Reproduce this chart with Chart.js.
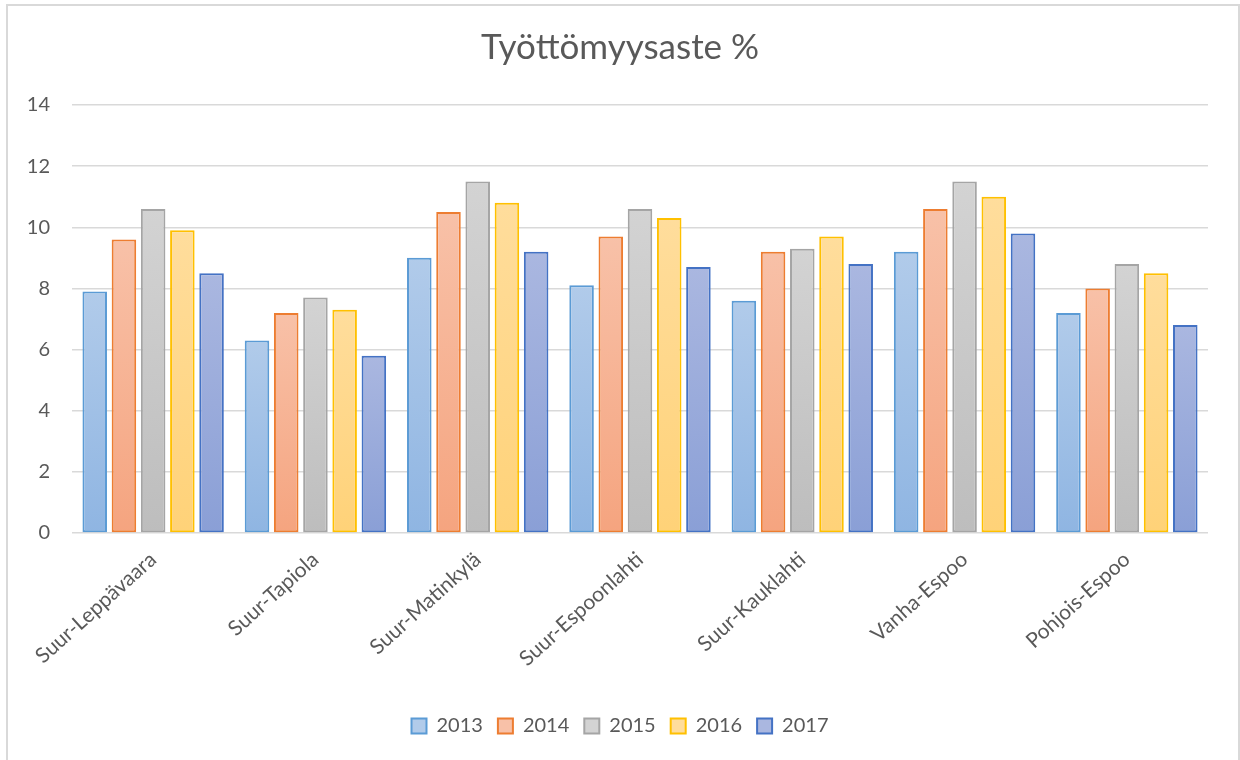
<!DOCTYPE html>
<html>
<head>
<meta charset="utf-8">
<script src="https://cdn.jsdelivr.net/npm/chart.js@4"></script>
<style>
  html, body { margin: 0; padding: 0; background: #fff; }
  #wrap { position: relative; width: 1240px; height: 760px; overflow: hidden; }
  #frame { position: absolute; left: 6px; top: 4px; width: 1230px; height: 800px;
           border: 2px solid #d9d9d9; pointer-events: none; }
</style>
</head>
<body>
<div id="wrap">
  <canvas id="chart" width="1240" height="760"></canvas>
  <div id="frame"></div>
</div>
<script>
// Työttömyysaste % by area, 2013-2017
const areas = ['Suur-Leppävaara', 'Suur-Tapiola', 'Suur-Matinkylä', 'Suur-Espoonlahti',
               'Suur-Kauklahti', 'Vanha-Espoo', 'Pohjois-Espoo'];
const years = ['2013', '2014', '2015', '2016', '2017'];

const v2013 = [7.9, 6.3, 9.0, 8.1, 7.6, 9.2, 7.2];
const v2014 = [9.6, 7.2, 10.5, 9.7, 9.2, 10.6, 8.0];
const v2015 = [10.6, 7.7, 11.5, 10.6, 9.3, 11.5, 8.8];
const v2016 = [9.9, 7.3, 10.8, 10.3, 9.7, 11.0, 8.5];
const v2017 = [8.5, 5.8, 9.2, 8.7, 8.8, 9.8, 6.8];

const yTicks = [0, 2, 4, 6, 8, 10, 12, 14];

// top colour, bottom colour, border
const palette = [
  ['#b1cbea', '#8fb5e2', '#5b9bd5'],
  ['#f8c1a8', '#f5a47f', '#ed7d31'],
  ['#d3d3d3', '#bdbdbd', '#a5a5a5'],
  ['#ffdd9c', '#ffd278', '#ffc000'],
  ['#aab7e0', '#8a9fd6', '#4472c4']
];

const grey = '#595959';
const font = 'Lato, "Open Sans", sans-serif';

function barFill(i) {
  return (ctx) => {
    const [top, bottom] = palette[i];
    const chart = ctx.chart;
    if (ctx.type !== 'data' || !chart.chartArea || !ctx.parsed) return bottom;
    const y = chart.scales.y;
    const y0 = y.getPixelForValue(ctx.parsed.y);
    const y1 = y.getPixelForValue(0);
    if (!isFinite(y0) || !isFinite(y1) || y0 === y1) return bottom;
    const g = chart.ctx.createLinearGradient(0, y0, 0, y1);
    g.addColorStop(0, top);
    g.addColorStop(1, bottom);
    return g;
  };
}

const series = [v2013, v2014, v2015, v2016, v2017];
const datasets = series.map((data, i) => ({
  label: years[i],
  data: data,
  backgroundColor: barFill(i),
  borderColor: palette[i][2],
  borderWidth: 2,
  borderSkipped: false,
  barPercentage: 0.84,
  categoryPercentage: 0.9
}));

new Chart(document.getElementById('chart').getContext('2d'), {
  type: 'bar',
  data: { labels: areas, datasets: datasets },
  options: {
    responsive: false,
    animation: false,
    layout: { padding: { left: 20, right: 20, top: 8, bottom: 14 } },
    plugins: {
      title: {
        display: true,
        text: 'Työttömyysaste %',
        color: grey,
        font: { family: font, size: 35, weight: 'normal' },
        padding: { top: 19, bottom: 36 }
      },
      legend: {
        position: 'bottom',
        labels: {
          color: grey,
          font: { family: font, size: 20 },
          boxWidth: 15,
          boxHeight: 15,
          padding: 15,
          generateLabels: (chart) => chart.data.datasets.map((ds, i) => ({
            text: ds.label,
            fillStyle: palette[i][0],
            strokeStyle: palette[i][2],
            lineWidth: 2,
            datasetIndex: i,
            fontColor: grey
          }))
        }
      },
      tooltip: { enabled: false }
    },
    scales: {
      x: {
        grid: { display: false },
        border: { display: false },
        afterFit: (axis) => { axis.height = 168; },
        ticks: {
          color: grey,
          font: { family: font, size: 21 },
          minRotation: 42,
          maxRotation: 42,
          padding: 6
        }
      },
      y: {
        min: 0,
        max: 14,
        afterBuildTicks: (axis) => { axis.ticks = yTicks.map(v => ({ value: v })); },
        afterFit: (axis) => { axis.width = 52; },
        grid: { color: '#d9d9d9', lineWidth: 1.5, drawTicks: false },
        border: { display: false },
        ticks: {
          color: grey,
          font: { family: font, size: 20 },
          padding: 22
        }
      },
      // empty right-hand axis, only reserves space so the plot ends where the original does
      yRight: {
        position: 'right',
        min: 0,
        max: 14,
        afterFit: (axis) => { axis.width = 12; },
        grid: { display: false },
        border: { display: false },
        ticks: { display: false }
      }
    }
  }
});
</script>
</body>
</html>
